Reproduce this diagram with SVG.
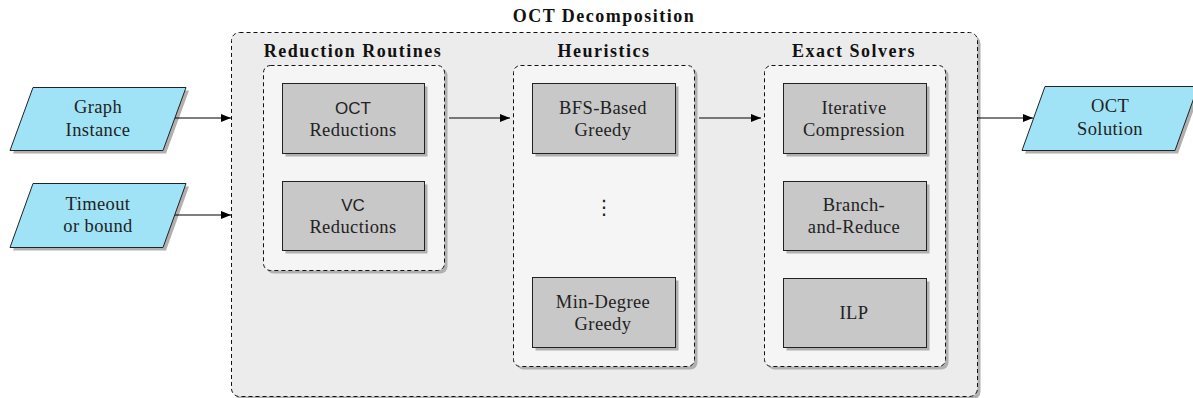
<svg xmlns="http://www.w3.org/2000/svg" width="1193" height="398" viewBox="0 0 1193 398">
  <style>
    .shadow { fill: #b0b0b0; stroke: none; }
    .outer { fill: #ececec; stroke: #111; stroke-width: 1; stroke-dasharray: 4 3; }
    .group { fill: #f5f5f5; stroke: #111; stroke-width: 1; stroke-dasharray: 4 3; }
    .node { fill: #c8c8c8; stroke: #222; stroke-width: 1; }
    .io { fill: #a0e2f6; stroke: #222; stroke-width: 1; }
    .label { font-family: "Liberation Serif", "Times New Roman", serif; font-size: 18.5px; letter-spacing: 0.4px; fill: #222; text-anchor: middle; }
    .sans { font-family: "Liberation Sans", Arial, sans-serif; font-size: 17px; letter-spacing: 0; }
    .title { font-family: "Liberation Serif", "Times New Roman", serif; font-size: 18px; letter-spacing: 1.5px; font-weight: bold; fill: #111; text-anchor: middle; }
    .dots { font-family: "DejaVu Sans", sans-serif; font-size: 20px; fill: #222; text-anchor: middle; }
    .edge { stroke: #000; stroke-width: 1.2; fill: none; marker-end: url(#arrow); }
  </style>
  <defs>
    <marker id="arrow" viewBox="0 0 10 8" refX="10" refY="4" markerWidth="10" markerHeight="8" markerUnits="userSpaceOnUse" orient="auto">
      <path d="M0,0 L10,4 L0,8 Z" fill="#000"/>
    </marker>
  </defs>

  <!-- outer container -->
  <g id="oct-decomposition">
    <rect class="shadow" x="234.5" y="35.5" width="746" height="364" rx="8"/>
    <rect class="outer" x="231.5" y="32.5" width="746" height="364" rx="8"/>
    <text class="title" x="604" y="22">OCT Decomposition</text>
  </g>

  <!-- reduction routines -->
  <g id="reduction-routines">
    <text class="title" x="353" y="57">Reduction Routines</text>
    <rect class="shadow" x="266.5" y="68.5" width="181" height="205" rx="7"/>
    <rect class="group" x="263.5" y="65.5" width="181" height="205" rx="7"/>
  </g>
  <g id="oct-reductions">
    <rect class="shadow" x="285.5" y="86.5" width="142" height="70"/>
    <rect class="node" x="282.5" y="83.5" width="142" height="70"/>
    <text class="label sans" x="353" y="114">OCT</text>
    <text class="label" x="353" y="136">Reductions</text>
  </g>
  <g id="vc-reductions">
    <rect class="shadow" x="285.5" y="184.5" width="142" height="69"/>
    <rect class="node" x="282.5" y="181.5" width="142" height="69"/>
    <text class="label sans" x="353" y="211">VC</text>
    <text class="label" x="353" y="233">Reductions</text>
  </g>

  <!-- heuristics -->
  <g id="heuristics">
    <text class="title" x="604" y="57">Heuristics</text>
    <rect class="shadow" x="516.5" y="68.5" width="181" height="301" rx="7"/>
    <rect class="group" x="513.5" y="65.5" width="181" height="301" rx="7"/>
    <text class="dots" x="604" y="214">⋮</text>
  </g>
  <g id="bfs-greedy">
    <rect class="shadow" x="535.5" y="86.5" width="143" height="70"/>
    <rect class="node" x="532.5" y="83.5" width="143" height="70"/>
    <text class="label" x="603" y="114">BFS-Based</text>
    <text class="label" x="603" y="136">Greedy</text>
  </g>
  <g id="min-degree-greedy">
    <rect class="shadow" x="535.5" y="280.5" width="143" height="70"/>
    <rect class="node" x="532.5" y="277.5" width="143" height="70"/>
    <text class="label" x="603" y="308">Min-Degree</text>
    <text class="label" x="603" y="330">Greedy</text>
  </g>

  <!-- exact solvers -->
  <g id="exact-solvers">
    <text class="title" x="854" y="57">Exact Solvers</text>
    <rect class="shadow" x="767.5" y="68.5" width="181" height="301" rx="7"/>
    <rect class="group" x="764.5" y="65.5" width="181" height="301" rx="7"/>
  </g>
  <g id="iterative-compression">
    <rect class="shadow" x="786.5" y="86.5" width="143" height="70"/>
    <rect class="node" x="783.5" y="83.5" width="143" height="70"/>
    <text class="label" x="854" y="114">Iterative</text>
    <text class="label" x="854" y="136">Compression</text>
  </g>
  <g id="branch-and-reduce">
    <rect class="shadow" x="786.5" y="184.5" width="143" height="69"/>
    <rect class="node" x="783.5" y="181.5" width="143" height="69"/>
    <text class="label" x="854" y="211">Branch-</text>
    <text class="label" x="854" y="233">and-Reduce</text>
  </g>
  <g id="ilp">
    <rect class="shadow" x="786.5" y="281.5" width="143" height="69"/>
    <rect class="node" x="783.5" y="278.5" width="143" height="69"/>
    <text class="label" x="854" y="319">ILP</text>
  </g>

  <!-- inputs and output -->
  <g id="graph-instance">
    <polygon class="shadow" points="36,90.5 189,90.5 166,153.5 13,153.5"/>
    <polygon class="io" points="33,87.5 186,87.5 163,150.5 10,150.5"/>
    <text class="label" x="98" y="113">Graph</text>
    <text class="label" x="98" y="136">Instance</text>
  </g>
  <g id="timeout-or-bound">
    <polygon class="shadow" points="36,186.5 189,186.5 166,250.5 13,250.5"/>
    <polygon class="io" points="33,183.5 186,183.5 163,247.5 10,247.5"/>
    <text class="label" x="98" y="210">Timeout</text>
    <text class="label" x="98" y="232">or bound</text>
  </g>
  <g id="oct-solution">
    <polygon class="shadow" points="1048,89.5 1201,89.5 1178,153.5 1025,153.5"/>
    <polygon class="io" points="1045,86.5 1198,86.5 1175,150.5 1022,150.5"/>
    <text class="label" x="1110" y="112">OCT</text>
    <text class="label" x="1110" y="135">Solution</text>
  </g>

  <!-- connectors -->
  <g id="connectors">
    <line class="edge" x1="175" y1="118" x2="231" y2="118"/>
    <line class="edge" x1="175" y1="215" x2="231" y2="215"/>
    <line class="edge" x1="449" y1="118" x2="510" y2="118"/>
    <line class="edge" x1="699" y1="118" x2="761" y2="118"/>
    <line class="edge" x1="977" y1="118" x2="1033" y2="118"/>
  </g>
</svg>
